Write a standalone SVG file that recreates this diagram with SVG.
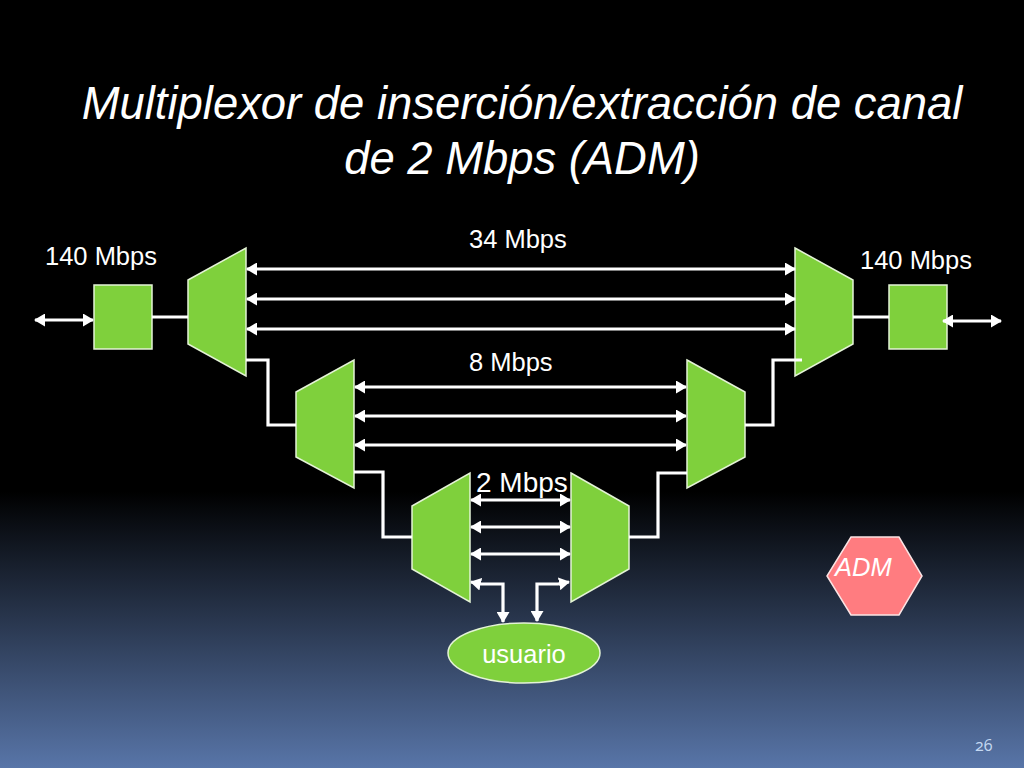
<svg xmlns="http://www.w3.org/2000/svg" width="1024" height="768" viewBox="0 0 1024 768">
<style>
text{font-family:"Liberation Sans",Arial,sans-serif;fill:#fff}
.t{font-size:45.4px;font-style:italic;text-anchor:middle}
.l{font-size:25.5px}
.n{fill:#7fd03c;stroke:#e4f3d6;stroke-width:1.5}
.c{fill:none;stroke:#fff;stroke-width:3.2}
.a{marker-start:url(#h);marker-end:url(#h)}
</style>
<defs>
<linearGradient id="bg" x1="0" y1="0" x2="0" y2="1">
<stop offset="0" stop-color="#000"/><stop offset="0.64" stop-color="#000"/><stop offset="1" stop-color="#5875a8"/>
</linearGradient>
<marker id="h" viewBox="0 0 11 13" refX="10" refY="6.5" markerUnits="userSpaceOnUse" markerWidth="11" markerHeight="13" orient="auto-start-reverse"><path d="M0 0L11 6.5L0 13Z" fill="#fff"/></marker>
</defs>
<rect width="1024" height="768" fill="url(#bg)"/>
<text class="t" x="522" y="119">Multiplexor de inserción/extracción de canal</text>
<text class="t" x="522" y="174">de 2 Mbps (ADM)</text>
<g id="mux140a"><rect class="n" x="94" y="285" width="58" height="64"/></g>
<g id="mux140b"><rect class="n" x="889" y="285" width="58" height="64"/></g>
<g id="dem34"><path class="n" d="M188 280L246 248V376L188 344Z"/></g>
<g id="mux34"><path class="n" d="M795 248L853 280V344L795 376Z"/></g>
<g id="dem8"><path class="n" d="M296 392L354 360V488L296 457Z"/></g>
<g id="mux8"><path class="n" d="M687 360L745 392V457L687 488Z"/></g>
<g id="dem2"><path class="n" d="M412 506L470 473V602L412 569Z"/></g>
<g id="mux2"><path class="n" d="M571 473L629 506V569L571 602Z"/></g>
<g id="usuario"><ellipse class="n" cx="524" cy="653" rx="76" ry="30"/><text class="l" x="524" y="663" text-anchor="middle">usuario</text></g>
<g id="adm"><path d="M851 537H899L922 576L899 615H851L827 576Z" fill="#ff7c80" stroke="#fbe4e4" stroke-width="1.5"/><text x="835" y="576" font-size="25.5" font-style="italic">ADM</text></g>
<g id="connectors">
<path class="c" d="M152 317H188M853 317H889M246 360H268V425H296M745 425H773V360H802M354 472H383V537H412M629 537H658V473H687"/>
<path class="c a" d="M35 320H93"/>
<path class="c a" d="M943 321H1001"/>
<path class="c a" d="M247 269H795"/><path class="c a" d="M247 299H795"/><path class="c a" d="M247 329H795"/>
<path class="c a" d="M355 387H686"/><path class="c a" d="M355 416H686"/><path class="c a" d="M355 445H686"/>
<path class="c a" d="M471 500H570"/><path class="c a" d="M471 527H570"/><path class="c a" d="M471 554H570"/>
<path class="c a" d="M471 582L480 584H503V622"/>
<path class="c a" d="M537 621V584H558L569 582"/>
</g>
<text class="l" x="45" y="265">140 Mbps</text>
<text class="l" x="860" y="269">140 Mbps</text>
<text class="l" x="469" y="248">34 Mbps</text>
<text class="l" x="469" y="371">8 Mbps</text>
<text x="476" y="492" font-size="28">2 Mbps</text>
<text x="975" y="751" font-size="16" style="font-family:'Open Sans',sans-serif;font-feature-settings:'onum';fill:#c4d8f2">26</text>
</svg>
